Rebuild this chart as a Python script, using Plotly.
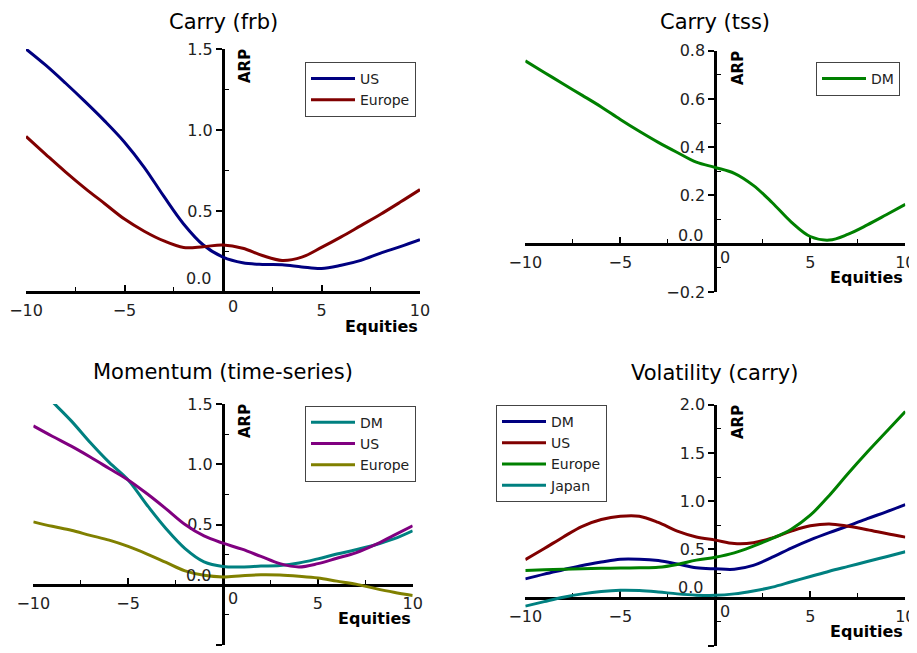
import plotly.graph_objects as go

# ---------------- data ----------------
x_vals = list(range(-10, 11))

carry_frb_us = [1.50, 1.40, 1.29, 1.175, 1.055, 0.925, 0.77, 0.59, 0.42, 0.29, 0.215,
                0.18, 0.17, 0.168, 0.155, 0.145, 0.165, 0.195, 0.24, 0.28, 0.323]
carry_frb_europe = [0.96, 0.85, 0.742, 0.64, 0.545, 0.45, 0.375, 0.315, 0.275, 0.28, 0.29,
                    0.27, 0.225, 0.195, 0.215, 0.275, 0.34, 0.41, 0.48, 0.555, 0.632]

carry_tss_dm = [0.758, 0.71, 0.662, 0.615, 0.567, 0.515, 0.466, 0.42, 0.378, 0.338, 0.316,
                0.292, 0.242, 0.17, 0.09, 0.03, 0.015, 0.04, 0.078, 0.12, 0.163]

mom_dm = [1.68, 1.52, 1.36, 1.18, 1.015, 0.87, 0.66, 0.465, 0.30, 0.19, 0.152,
          0.148, 0.155, 0.16, 0.18, 0.215, 0.255, 0.29, 0.33, 0.38, 0.448]
mom_us = [1.318, 1.232, 1.15, 1.06, 0.965, 0.87, 0.755, 0.63, 0.50, 0.405, 0.345,
          0.295, 0.235, 0.175, 0.148, 0.175, 0.22, 0.265, 0.33, 0.41, 0.489]
mom_europe = [0.522, 0.485, 0.452, 0.41, 0.37, 0.318, 0.255, 0.185, 0.115, 0.078, 0.065,
              0.075, 0.082, 0.08, 0.07, 0.056, 0.03, 0.005, -0.03, -0.062, -0.09]

vol_dm = [0.195, 0.245, 0.29, 0.335, 0.37, 0.40, 0.40, 0.385, 0.35, 0.31, 0.30,
          0.295, 0.335, 0.42, 0.515, 0.60, 0.675, 0.745, 0.82, 0.89, 0.965]
vol_us = [0.395, 0.51, 0.63, 0.74, 0.81, 0.845, 0.845, 0.78, 0.69, 0.63, 0.597,
          0.562, 0.57, 0.62, 0.69, 0.745, 0.765, 0.74, 0.705, 0.665, 0.628]
vol_europe = [0.283, 0.29, 0.295, 0.30, 0.305, 0.308, 0.31, 0.315, 0.345, 0.39, 0.42,
              0.465, 0.535, 0.615, 0.71, 0.855, 1.06, 1.29, 1.51, 1.72, 1.93]
vol_japan = [-0.087, -0.04, 0.005, 0.04, 0.065, 0.078, 0.075, 0.06, 0.04, 0.027, 0.025,
             0.04, 0.07, 0.11, 0.165, 0.22, 0.275, 0.325, 0.375, 0.425, 0.476]

panel_titles = ["Carry (frb)", "Carry (tss)", "Momentum (time-series)", "Volatility (carry)"]
x_label = "Equities"
y_label = "ARP"

x_tick_vals = [-10, -5, 5, 10]
x_tick_text = ["\u221210", "\u22125", "5", "10"]
x_minor_vals = [-7.5, -2.5, 2.5, 7.5]

y_tick_vals_1 = [0.5, 1.0, 1.5]
y_tick_text_1 = ["0.5", "1.0", "1.5"]
y_minor_1 = [0.25, 0.75, 1.25]

y_tick_vals_2 = [-0.2, 0.2, 0.4, 0.6, 0.8]
y_tick_text_2 = ["\u22120.2", "0.2", "0.4", "0.6", "0.8"]
y_minor_2 = [-0.1, 0.1, 0.3, 0.5, 0.7]

y_tick_vals_3 = [-0.5, 0.5, 1.0, 1.5]
y_tick_text_3 = ["\u22120.5", "0.5", "1.0", "1.5"]
y_minor_3 = [-0.25, 0.25, 0.75, 1.25]

y_tick_vals_4 = [-0.5, 0.5, 1.0, 1.5, 2.0]
y_tick_text_4 = ["\u22120.5", "0.5", "1.0", "1.5", "2.0"]
y_minor_4 = [-0.25, 0.25, 0.75, 1.25, 1.75]

NAVY, MAROON, GREEN = "#000080", "#800000", "#008000"
TEAL, PURPLE, OLIVE = "#008080", "#800080", "#808000"

FONT = "DejaVu Sans"
OFF = 8                      # browser default body margin
W, H = 917 - OFF, 653 - OFF  # figure size so that the page fits the window


def fx(px):
    return (px - OFF) / W


def fy(py):
    return 1 - (py - OFF) / H


# ---------------- panel layout (window pixels) ----------------
panels = [
    dict(px=(26, 420), py=(49, 292), yr=(0.0, 1.5), yt=(y_tick_vals_1, y_tick_text_1), ym=y_minor_1,
         zshift=14, title_y=None, legend=(305, 62)),
    dict(px=(525.3, 905.3), py=(50.7, 292), yr=(-0.2, 0.8), yt=(y_tick_vals_2, y_tick_text_2), ym=y_minor_2,
         zshift=8, title_y=None, legend=(816, 62)),
    dict(px=(33.3, 412.7), py=(404, 645), yr=(-0.5, 1.5), yt=(y_tick_vals_3, y_tick_text_3), ym=y_minor_3,
         zshift=9, title_y=372, legend=(305, 405.7)),
    dict(px=(525.3, 905.3), py=(404.7, 646), yr=(-0.5, 2.0), yt=(y_tick_vals_4, y_tick_text_4), ym=y_minor_4,
         zshift=10, title_y=372.5, legend=(496, 405)),
]

series = [
    [("US", carry_frb_us, NAVY), ("Europe", carry_frb_europe, MAROON)],
    [("DM", carry_tss_dm, GREEN)],
    [("DM", mom_dm, TEAL), ("US", mom_us, PURPLE), ("Europe", mom_europe, OLIVE)],
    [("DM", vol_dm, NAVY), ("US", vol_us, MAROON), ("Europe", vol_europe, GREEN), ("Japan", vol_japan, TEAL)],
]

fig = go.Figure()
layout = dict(width=W, height=H, margin=dict(l=0, r=0, t=0, b=0, pad=0, autoexpand=False),
              paper_bgcolor="white", plot_bgcolor="white",
              font=dict(family=FONT, color="#111"), annotations=[])

for i, (p, ser) in enumerate(zip(panels, series)):
    sfx = "" if i == 0 else str(i + 1)
    leg = "legend" if i == 0 else "legend" + str(i + 1)
    xd = [fx(p["px"][0]), fx(p["px"][1])]
    yd = [fy(p["py"][1]), fy(p["py"][0])]
    y0, y1 = p["yr"]
    xpos = yd[0] + (0 - y0) / (y1 - y0) * (yd[1] - yd[0])
    ypos = xd[0] + 0.5 * (xd[1] - xd[0])

    for name, vals, color in ser:
        fig.add_trace(go.Scatter(
            x=x_vals, y=vals, name=name, mode="lines",
            line=dict(color=color, width=3, shape="spline", smoothing=1.0),
            xaxis="x" + sfx, yaxis="y" + sfx, legend=leg, hoverinfo="skip"))

    layout["xaxis" + sfx] = dict(
        domain=xd, range=[-10, 10], anchor="free", position=xpos, automargin=False,
        showline=True, linewidth=3, linecolor="black", showgrid=False, zeroline=False,
        tickmode="array", tickvals=x_tick_vals, ticktext=x_tick_text,
        ticks="inside", ticklen=6, tickwidth=1.5, tickcolor="black",
        minor=dict(tickmode="array", tickvals=x_minor_vals, ticks="inside",
                   ticklen=4, tickwidth=1, tickcolor="black"),
        tickfont=dict(family=FONT, size=16, color="#222"), ticklabelstandoff=3,
        layer="below traces", fixedrange=True)
    layout["yaxis" + sfx] = dict(
        domain=yd, range=[y0, y1], anchor="free", position=ypos, side="left", automargin=False,
        showline=True, linewidth=3, linecolor="black", showgrid=False, zeroline=False,
        tickmode="array", tickvals=p["yt"][0], ticktext=p["yt"][1],
        ticks="outside", ticklen=6, tickwidth=1.5, tickcolor="black",
        minor=dict(tickmode="array", tickvals=p["ym"], ticks="inside",
                   ticklen=4, tickwidth=1, tickcolor="black"),
        tickfont=dict(family=FONT, size=16, color="#222"),
        layer="below traces", fixedrange=True)

    lx, ly = p["legend"]
    layout[leg] = dict(x=fx(lx), y=fy(ly), xanchor="left", yanchor="top",
                       bgcolor="white", bordercolor="#444", borderwidth=1,
                       font=dict(family=FONT, size=14, color="#222"),
                       itemwidth=44, tracegroupgap=0)

    xr, yr = "x" + sfx, "y" + sfx
    anns = layout["annotations"]
    if p["title_y"] is None:
        title_pos = dict(yref="paper", y=1.0, yanchor="top")
    else:
        title_pos = dict(yref="paper", y=fy(p["title_y"]), yanchor="middle")
    anns.append(dict(text=panel_titles[i], xref=xr, x=0, xanchor="center", showarrow=False,
                     font=dict(family=FONT, size=21, color="black"), **title_pos))
    anns.append(dict(text="<b>" + y_label + "</b>", xref=xr, x=0, yref=yr, y=y1,
                     xshift=22, yshift=-17, xanchor="center", yanchor="middle",
                     textangle=-90, showarrow=False,
                     font=dict(family=FONT, size=15, color="black")))
    anns.append(dict(text="<b>" + x_label + "</b>", xref=xr, x=10, yref=yr, y=0,
                     yshift=-34, xanchor="right", yanchor="middle", showarrow=False,
                     font=dict(family=FONT, size=16, color="black")))
    anns.append(dict(text="0", xref=xr, x=0, yref=yr, y=0, xshift=10, yshift=-14,
                     xanchor="center", yanchor="middle", showarrow=False,
                     font=dict(family=FONT, size=16, color="#222")))
    anns.append(dict(text="0.0", xref=xr, x=0, yref=yr, y=0, xshift=-10, yshift=p["zshift"],
                     xanchor="right", yanchor="middle", showarrow=False,
                     font=dict(family=FONT, size=16, color="#222")))

fig.update_layout(**layout)
fig.update_layout(showlegend=True)
fig.write_html("out.html")
